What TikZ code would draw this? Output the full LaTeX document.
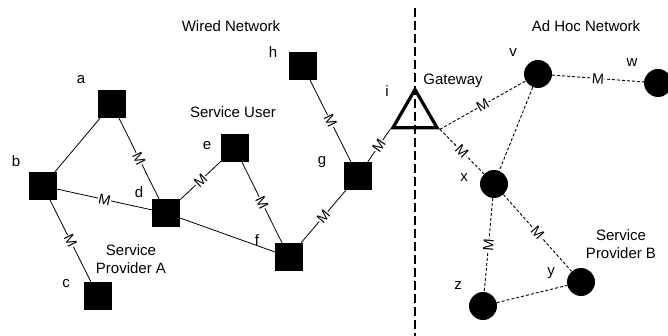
\documentclass[tikz,border=0pt]{standalone}
\usepackage{fontspec}
\setmainfont{Liberation Sans}
\usetikzlibrary{shapes.geometric}
\begin{document}
\begin{tikzpicture}[x=1pt,y=-1pt,
  sq/.style={rectangle, fill=black, minimum size=28pt, inner sep=0pt},
  nd/.style={circle, fill=black, minimum size=28pt, inner sep=0pt},
  gw/.style={regular polygon, regular polygon sides=3, draw=black, line width=3.2pt, minimum size=51pt, inner sep=0pt},
  lbl/.style={font=\fontsize{15}{18}\selectfont, inner sep=0pt},
  wire/.style={draw=black, line width=0.8pt},
  adhoc/.style={draw=black, line width=0.9pt, dash pattern=on 3pt off 2pt},
  divider/.style={draw=black, line width=1.5pt, dash pattern=on 9pt off 4pt},
  mlab/.style={fill=white, inner sep=0.4pt, sloped, pos=0.5, font=\fontsize{14.5}{14.5}\selectfont}]
\useasboundingbox (0,0) rectangle (668,336);

% divider
\coordinate (dtop) at (415,8);
\coordinate (dbot) at (415,336);
\draw[divider] (dtop) -- (dbot);

% wired nodes
\node[sq] (a) at (112,104) {};
\node[sq] (b) at (43,186) {};
\node[sq] (c) at (98,296) {};
\node[sq] (d) at (166,213) {};
\node[sq] (e) at (235,148) {};
\node[sq] (f) at (289,257) {};
\node[sq] (g) at (358,176) {};
\node[sq] (h) at (303,66) {};
\node[gw] (i) at (415,115) {};

% ad hoc nodes
\node[nd] (v) at (538,74) {};
\node[nd] (w) at (658,83) {};
\node[nd] (x) at (494,184) {};
\node[nd] (y) at (581,282) {};
\node[nd] (z) at (483,306) {};

% wired edges
\draw[wire] (a) -- (b);
\draw[wire] (a) -- node[mlab]{M} (d);
\draw[wire] (b) -- node[mlab]{M} (d);
\draw[wire] (b) -- node[mlab]{M} (c);
\draw[wire] (d) -- node[mlab]{M} (e);
\draw[wire] (d) -- (f);
\draw[wire] (e) -- node[mlab]{M} (f);
\draw[wire] (f) -- node[mlab]{M} (g);
\draw[wire] (g) -- node[mlab]{M} (h);
\draw[wire] (g) -- node[mlab]{M} (i.corner 2);

% ad hoc edges
\draw[adhoc] (i.corner 3) -- node[mlab]{M} (v);
\draw[adhoc] (i.corner 3) -- node[mlab]{M} (x);
\draw[adhoc] (v) -- (x);
\draw[adhoc] (v) -- node[mlab]{M} (w);
\draw[adhoc] (x) -- node[mlab]{M} (y);
\draw[adhoc] (x) -- node[mlab]{M} (z);
\draw[adhoc] (z) -- (y);

% labels
\node[lbl] (tw) at (231,26) {Wired Network};
\node[lbl] (ta) at (81,80) {a};
\node[lbl] (tb) at (16,161) {b};
\node[lbl] (tc) at (66,284) {c};
\node[lbl] (td) at (139,192) {d};
\node[lbl] (te) at (207,146) {e};
\node[lbl] (tf) at (257,240) {f};
\node[lbl] (tg) at (322,162) {g};
\node[lbl] (th) at (273,52) {h};
\node[lbl] (ti) at (387,91) {i};
\node[lbl] (tsu) at (233,112) {Service User};
\node[lbl, align=center] (tspa) at (131,259) {Service\\Provider A};
\node[lbl] (tgw) at (453,81) {Gateway};
\node[lbl] (tah) at (586,26) {Ad Hoc Network};
\node[lbl] (tv) at (513,53) {v};
\node[lbl] (tww) at (632,63) {w};
\node[lbl] (tx) at (464,178) {x};
\node[lbl] (ty) at (551,273) {y};
\node[lbl] (tz) at (458,286) {z};
\node[lbl, align=center] (tspb) at (621,244) {Service\\Provider B};
\end{tikzpicture}
\end{document}
